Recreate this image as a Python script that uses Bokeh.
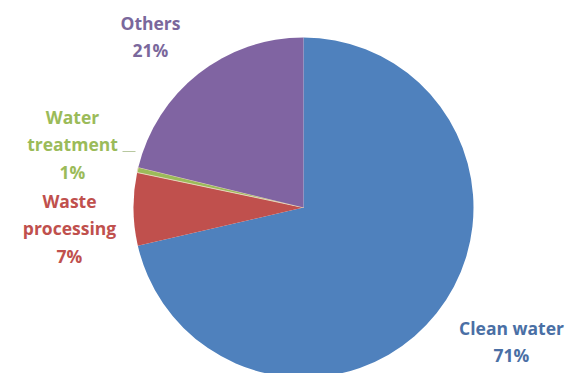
import math
from bokeh.plotting import figure
from bokeh.models import Range1d, ColumnDataSource
from bokeh.embed import file_html
from bokeh.resources import INLINE
from bokeh.core.properties import value

# ---- data ----
categories = ["Clean water", "Waste\nprocessing", "Water\ntreatment", "Others"]
shares = [71.4, 6.9, 0.5, 21.2]
pct_labels = ["71%", "7%", "1%", "21%"]

# ---- style ----
slice_colors = ["#4F81BD", "#C0504D", "#9BBB59", "#8064A2"]
slice_line_alpha = [0, 0, 1, 0]
label_colors = ["#4A6FA5", "#C0504D", "#9BBB59", "#7A689C"]

W, H = 587, 373
cx, cy, R = 303, H - 207, 170
# label block centre offsets from pie centre (pixels, y up) — layout only
label_offsets = [(208, -134), (-234, -21), (-231, 63), (-153, 171)]

p = figure(width=W, height=H, output_backend="svg", toolbar_location=None,
           x_range=Range1d(0, W), y_range=Range1d(0, H), min_border=0)
p.axis.visible = False
p.grid.visible = False
p.outline_line_color = None
p.background_fill_color = "white"
p.border_fill_color = "white"

total = sum(shares)
starts, ends = [], []
acc = 0.0
for s in shares:
    a0 = math.pi / 2 - 2 * math.pi * acc / total
    acc += s
    a1 = math.pi / 2 - 2 * math.pi * acc / total
    starts.append(a0)
    ends.append(a1)

src = ColumnDataSource(dict(start=starts, end=ends, color=slice_colors,
                            la=slice_line_alpha))
p.wedge(x=cx, y=cy, radius=R, start_angle="start", end_angle="end",
        direction="clock", fill_color="color", line_color="#E6D2BC",
        line_alpha="la", line_width=1.0, source=src)

texts = [c + "\n" + pc for c, pc in zip(categories, pct_labels)]
lx = [cx + dx for dx, dy in label_offsets]
ly = [cy + dy for dx, dy in label_offsets]
lsrc = ColumnDataSource(dict(x=lx, y=ly, t=texts, c=label_colors))
p.text(x="x", y="y", text="t", text_color="c", source=lsrc,
       text_align="center", text_baseline="middle",
       text_font=value("Open Sans"), text_font_size="17.5px", text_font_style="bold",
       text_line_height=1.15)

# leader line for the small slice
p.line(x=[122, 135], y=[H - 151, H - 151], line_color="#B8C8A0", line_width=1)

open("out.html", "w").write(file_html(p, INLINE))
